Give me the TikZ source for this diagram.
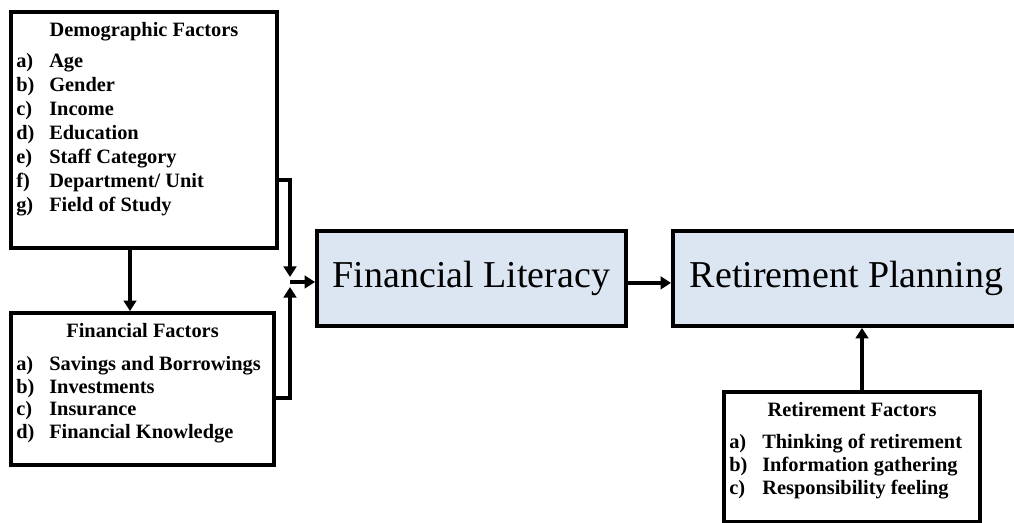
\documentclass[tikz,border=0pt]{standalone}
\usepackage{fontspec}
\setmainfont{Liberation Serif}
\usetikzlibrary{arrows.meta}
\definecolor{litblue}{RGB}{220,230,242}

\begin{document}
\begin{tikzpicture}[x=0.025cm, y=-0.025cm,
		box/.style={draw=black, line width=2.7pt, inner sep=0pt},
		bigbox/.style={box, fill=litblue, font=\fontsize{27}{32}\selectfont},
		head/.style={anchor=base, inner sep=0pt, font=\fontsize{14.5}{17}\selectfont\bfseries},
		item/.style={anchor=base west, inner sep=0pt, font=\fontsize{14.5}{17}\selectfont\bfseries},
		link/.style={line width=2.7pt, -{Triangle[length=7.5pt,width=9pt]}}]
		\useasboundingbox (0,0) rectangle (1014,523);
		% boxes
		\node[box, minimum width=6.65cm, minimum height=5.9cm] (demo) at (144,130) {};
		\node[box, minimum width=6.575cm, minimum height=3.8cm] (fin) at (142.5,389) {};
		\node[bigbox, minimum width=7.725cm, minimum height=2.375cm] (lit) at (471.5,278.5) {Financial Literacy};
		\node[bigbox, minimum width=8.675cm, minimum height=2.375cm] (plan) at (846.5,278.5) {Retirement Planning};
		\node[box, minimum width=6.4cm, minimum height=3.25cm] (ret) at (852,457) {};
		% demographic factors
		\node[head] (demohead) at (144,37) {Demographic Factors};
		\node[item] (demoa) at (16,68) {\makebox[0.825cm][l]{a)}Age};
		\node[item] (demob) at (16,92) {\makebox[0.825cm][l]{b)}Gender};
		\node[item] (democ) at (16,116) {\makebox[0.825cm][l]{c)}Income};
		\node[item] (demod) at (16,140) {\makebox[0.825cm][l]{d)}Education};
		\node[item] (demoe) at (16,164) {\makebox[0.825cm][l]{e)}Staff Category};
		\node[item] (demof) at (16,188) {\makebox[0.825cm][l]{f)}Department/ Unit};
		\node[item] (demog) at (16,212) {\makebox[0.825cm][l]{g)}Field of Study};
		% financial factors
		\node[head] (finhead) at (142.5,338) {Financial Factors};
		\node[item] (fina) at (16,371) {\makebox[0.825cm][l]{a)}Savings and Borrowings};
		\node[item] (finb) at (16,393.5) {\makebox[0.825cm][l]{b)}Investments};
		\node[item] (finc) at (16,416) {\makebox[0.825cm][l]{c)}Insurance};
		\node[item] (find) at (16,438.5) {\makebox[0.825cm][l]{d)}Financial Knowledge};
		% retirement factors
		\node[head] (rethead) at (852,417) {Retirement Factors};
		\node[item] (reta) at (729,449) {\makebox[0.825cm][l]{a)}Thinking of retirement};
		\node[item] (retb) at (729,472) {\makebox[0.825cm][l]{b)}Information gathering};
		\node[item] (retc) at (729,495) {\makebox[0.825cm][l]{c)}Responsibility feeling};
		% connectors
		\coordinate (join) at (290,282);
		\coordinate (jtop) at (290,277);
		\coordinate (jbot) at (290,287);
		\coordinate (dsplit) at ([xshift=-0.35cm]demo.south);
		\coordinate (rup) at ([xshift=0.25cm]ret.north);
		\draw[link] (dsplit) -- (dsplit |- fin.north);
		\draw[link] ([yshift=-1.25cm]demo.east) -| (jtop);
		\draw[link] ([yshift=-0.225cm]fin.east) -| (jbot);
		\draw[link] (join) -- (join -| lit.west);
		\draw[link] ([yshift=-0.11cm]lit.east) -- ([yshift=-0.11cm]plan.west);
		\draw[link] (rup) -- (rup |- plan.south);
	\end{tikzpicture}
\end{document}
